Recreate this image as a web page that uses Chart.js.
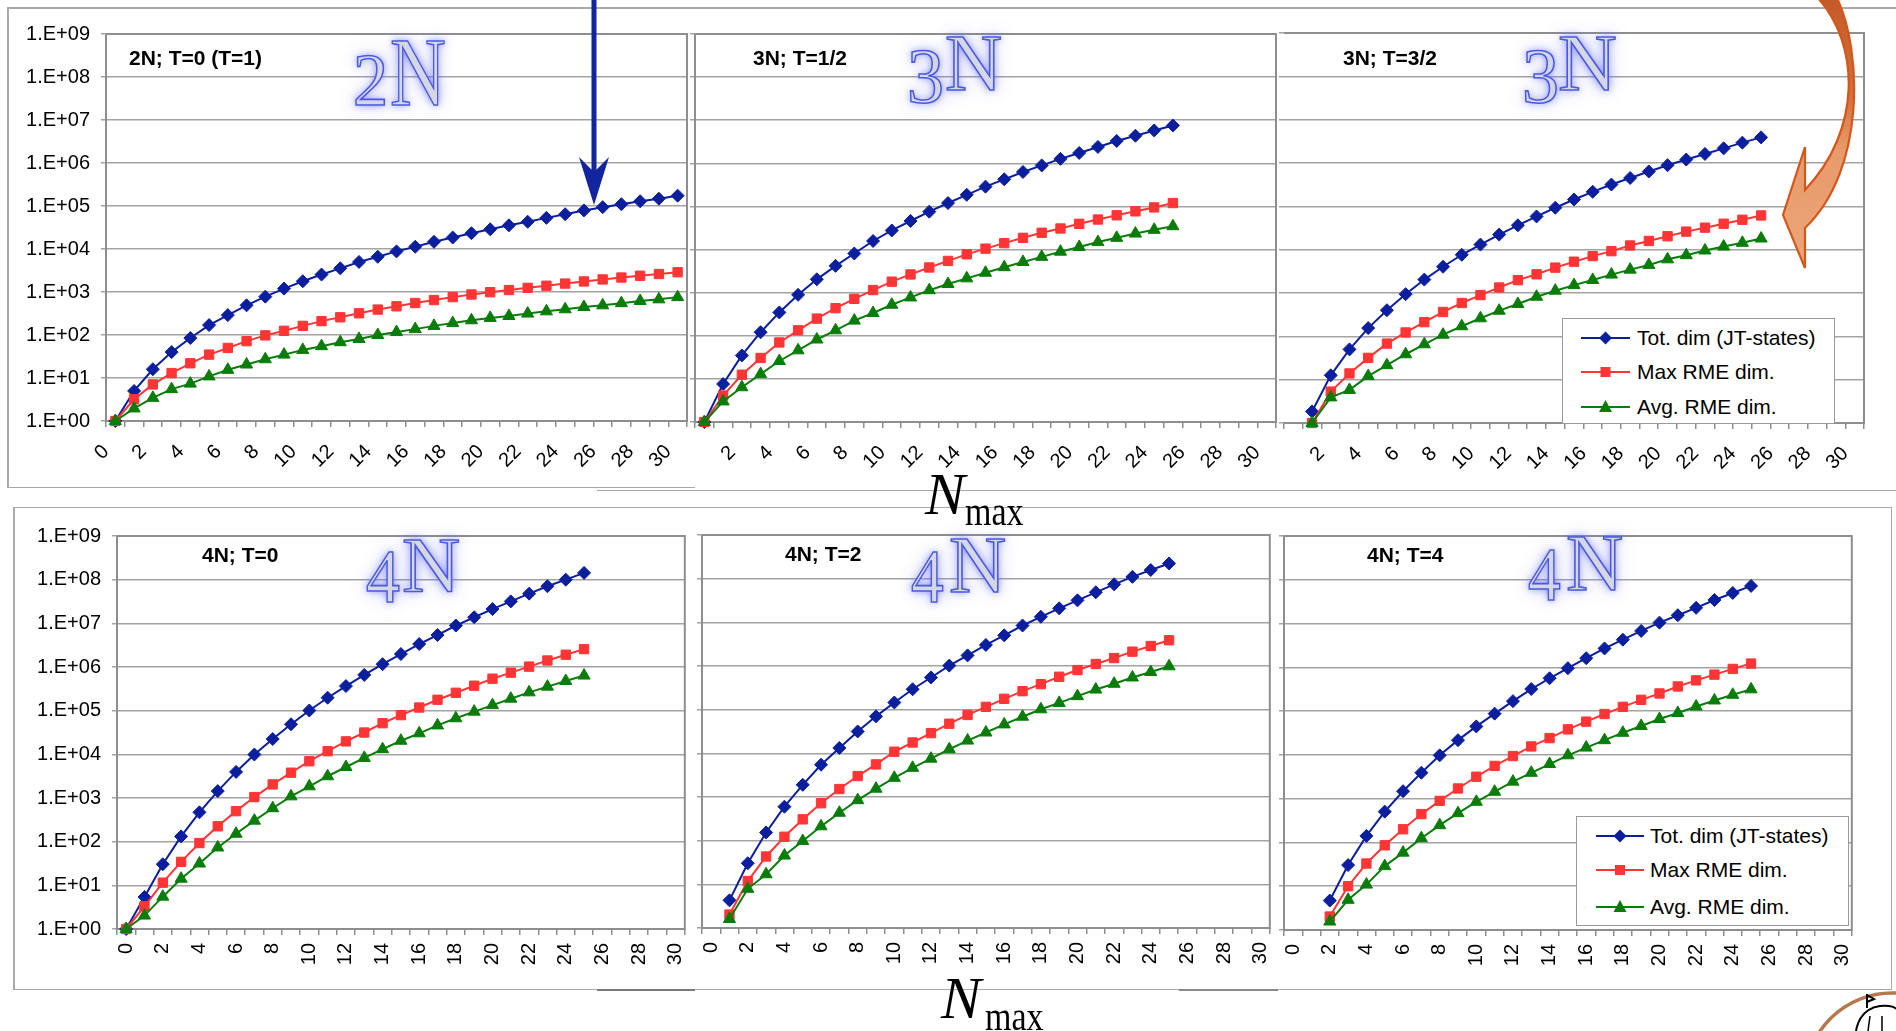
<!DOCTYPE html>
<html>
<head>
<meta charset="utf-8">
<title>JT-state and RME dimensions vs Nmax</title>
<script src="https://cdn.jsdelivr.net/npm/chart.js@4.4.1/dist/chart.umd.min.js"></script>
<style>
  html, body { margin: 0; padding: 0; background: #fff; }
  #page { position: relative; width: 1896px; height: 1031px; overflow: hidden; background: #fff; }
  .rule { position: absolute; background: #a9a9a9; }
  .panel { position: absolute; }
  .panel canvas { display: block; }
  .tag { position: absolute; font: bold 21px "Liberation Sans", Arial, sans-serif; color: #000; white-space: nowrap; line-height: 21px; }
  .deco { position: absolute; font-family: "Liberation Serif", "DejaVu Serif", serif; line-height: 1; color: #d6d7e4;
          -webkit-text-stroke: 1.6px #4b5ae0; text-shadow: 0 0 8px rgba(95,105,255,.8), 0 0 18px rgba(95,105,255,.45);
          transform-origin: 0 0; white-space: nowrap; }
  .nlabel { position: absolute; font-family: "Liberation Serif", "DejaVu Serif", serif; color: #000; line-height: 1; white-space: nowrap; transform-origin: 0 0; }
  .legend { position: absolute; background: #fff; border: 1px solid #9a9a9a; box-sizing: border-box; }
  .legend svg { position: absolute; left: 0; top: 0; }
  .legend span { position: absolute; font: 21px "Liberation Sans", Arial, sans-serif; color: #000; white-space: nowrap; line-height: 24px; }
  svg.overlay { position: absolute; left: 0; top: 0; pointer-events: none; }
</style>
</head>
<body>
<div id="page"></div>
<script>
// ---------- data ----------
const nmaxLabels = ['0','1','2','3','4','5','6','7','8','9','10','11','12','13','14','15',
                    '16','17','18','19','20','21','22','23','24','25','26','27','28','29','30'];
const decadeTicks  = [1, 1e1, 1e2, 1e3, 1e4, 1e5, 1e6, 1e7, 1e8, 1e9];
const decadeLabels = ['1.E+00','1.E+01','1.E+02','1.E+03','1.E+04','1.E+05','1.E+06','1.E+07','1.E+08','1.E+09'];
const seriesNames  = ['Tot. dim (JT-states)', 'Max RME dim.', 'Avg. RME dim.'];

// 2N; T=0 (T=1), Nmax = 0..30
const tot2N_T0 = [1, 5, 16, 40, 85, 170, 290, 490, 780, 1200, 1780, 2550, 3550, 5000, 6600, 8800, 11300, 14700, 18500, 23300,
                  28700, 35500, 43000, 53000, 64500, 79000, 94000, 110000, 129000, 148000, 174000];
const max2N_T0 = [1, 3.2, 7.1, 13, 22, 35, 50, 72, 98, 125, 163, 210, 258, 320, 390, 465, 555, 650, 760, 875,
                  990, 1110, 1250, 1400, 1570, 1760, 1960, 2170, 2390, 2620, 2880];
const avg2N_T0 = [1, 1.96, 3.45, 5.5, 7.4, 10.9, 15.5, 20.6, 27.3, 35, 45, 55, 68, 81, 100, 117, 137, 163, 189, 220,
                  250, 277, 315, 355, 397, 448, 490, 550, 620, 675, 760];

// 3N; T=1/2, from Nmax = 0
const tot3N_T12 = [1, 7.6, 35, 121, 348, 890, 2040, 4190, 8100, 15800, 27700, 46000, 75700, 120000, 186000, 288000, 426000,
                   630000, 895000, 1270000, 1740000, 2400000, 3300000, 4370000, 5800000, 7560000];
const max3N_T12 = [1, 4.1, 12.5, 30.6, 70, 134, 250, 437, 720, 1150, 1800, 2650, 3840, 5450, 7750, 10500, 14100,
                   18700, 24500, 30800, 39500, 49700, 62300, 77000, 95000, 120000];
const avg3N_T12 = [1, 3.0, 6.4, 12.9, 26, 46, 82, 134, 225, 337, 525, 775, 1140, 1590, 2150, 2900, 3900,
                   5150, 6770, 8930, 11500, 14900, 18700, 23500, 28700, 34800];

// 3N; T=3/2, from Nmax = 1
const tot3N_T32 = [1.85, 12.6, 50, 155, 400, 940, 2040, 4040, 7630, 13100, 22300, 36500, 58500, 92800, 144000, 216000,
                   318000, 450000, 637000, 890000, 1200000, 1620000, 2180000, 2950000, 3900000];
const max3N_T32 = [1, 5.3, 13.9, 31.8, 68, 123, 213, 365, 587, 895, 1340, 1980, 2700, 3850, 5280, 7100,
                   9240, 12500, 15900, 20400, 26100, 32200, 39700, 49000, 61600];
const avg3N_T32 = [1, 3.9, 5.8, 12.1, 21.6, 38.6, 65.6, 109, 171, 261, 391, 559, 820, 1130, 1520, 2000,
                   2660, 3460, 4440, 5980, 7460, 9580, 11800, 14400, 18100];

// 4N; T=0, from Nmax = 0
const tot4N_T0 = [1, 5.4, 30.4, 132, 470, 1440, 3960, 9900, 22400, 48700, 101000, 198000, 366000, 660000, 1160000,
                  1980000, 3360000, 5400000, 8900000, 13800000, 21200000, 31800000, 47800000, 70700000, 100000000, 143000000];
const max4N_T0 = [1, 3.3, 11.5, 34.5, 93, 225, 500, 1050, 2050, 3800, 6950, 11800, 19800, 31600, 51600,
                  79000, 118000, 178000, 257000, 373000, 540000, 742000, 1020000, 1410000, 1910000, 2570000];
const avg4N_T0 = [1, 2.03, 5.5, 14.2, 31.6, 73.6, 152, 303, 583, 1090, 1850, 3150, 5130, 8280, 13100,
                  20500, 30300, 46000, 67000, 95000, 134000, 188000, 263000, 355000, 479000, 637000];

// 4N; T=2, from Nmax = 1
const tot4N_T2 = [4.3, 30.4, 154, 600, 1900, 5490, 13300, 31700, 70300, 146000, 293000, 546000, 1020000, 1750000,
                  3030000, 5040000, 8460000, 13400000, 20900000, 31900000, 48700000, 74300000, 110000000, 158000000, 223000000];
const max4N_T2 = [2.03, 11.9, 43.4, 123, 308, 721, 1520, 3020, 5580, 10900, 17700, 29000, 47700, 75700,
                  116000, 177000, 265000, 384000, 567000, 807000, 1110000, 1520000, 2130000, 2870000, 3890000];
const avg4N_T2 = [1.61, 7.9, 17, 45.6, 98, 213, 436, 846, 1550, 2750, 4660, 7550, 12400, 19600,
                  30000, 46000, 69000, 102000, 143000, 204000, 289000, 392000, 546000, 727000, 985000];

// 4N; T=4, from Nmax = 2
const tot4N_T4 = [4.7, 30.4, 141, 505, 1480, 3910, 9760, 21700, 44800, 87600, 169000, 319000, 563000, 955000,
                  1620000, 2700000, 4280000, 6780000, 10500000, 15500000, 22900000, 34500000, 50000000, 72400000];
const max4N_T4 = [2.03, 10, 33, 86, 200, 444, 890, 1710, 3170, 5600, 9400, 15600, 24200, 38300,
                  57500, 85900, 125000, 181000, 253000, 366000, 504000, 681000, 920000, 1220000];
const avg4N_T4 = [1.56, 4.9, 10.9, 28.8, 58.5, 125, 248, 466, 848, 1440, 2450, 3900, 6180, 9790,
                  14700, 21700, 32000, 45800, 66000, 90600, 127000, 175000, 236000, 314000];

const panelData = [
  { title: '2N; T=0 (T=1)', first: 0, tot: tot2N_T0,  max: max2N_T0,  avg: avg2N_T0 },
  { title: '3N; T=1/2',     first: 0, tot: tot3N_T12, max: max3N_T12, avg: avg3N_T12 },
  { title: '3N; T=3/2',     first: 1, tot: tot3N_T32, max: max3N_T32, avg: avg3N_T32 },
  { title: '4N; T=0',       first: 0, tot: tot4N_T0,  max: max4N_T0,  avg: avg4N_T0 },
  { title: '4N; T=2',       first: 1, tot: tot4N_T2,  max: max4N_T2,  avg: avg4N_T2 },
  { title: '4N; T=4',       first: 2, tot: tot4N_T4,  max: max4N_T4,  avg: avg4N_T4 }
];

// ---------- layout & style ----------
const FONT = '"Liberation Sans", Arial, sans-serif';
const seriesStyle = {
  tot: { color: '#0b1f9e', line: '#0b1f9e', point: 'rectRot',  radius: 6.5 },
  max: { color: '#ff3535', line: '#ff3535', point: 'rect',     radius: 6.6 },
  avg: { color: '#0a7c0a', line: '#0a7c0a', point: 'triangle', radius: 7 }
};
const rowTop    = { padT: 20, padR: 22, padB: 62, rot: 45, tickPad: 13, tickFont: 20, shiftLabels: true };
const rowBottom = { padT: 20, padR: 22, padB: 52, rot: 90, tickPad: 8,  tickFont: 20, shiftLabels: false };
const panelLayout = [
  { box: [106, 31, 687, 421],  row: rowTop,    yLabels: true,  labelRoom: 96, hideZero: false, frameLeft: true,
    tagAt: [129, 47],  deco: [['2', 353, 43, 74, 0.95], ['N', 390, 23, 98, 0.79]] },
  { box: [695, 31, 1276, 422], row: rowTop,    yLabels: false, hideZero: true, frameLeft: true,
    tagAt: [753, 47],  deco: [['3', 907, 37, 78, 0.95], ['N', 945, 23, 80, 0.99]] },
  { box: [1284, 30, 1864, 423], row: rowTop,   yLabels: false, hideZero: true, frameLeft: false,
    tagAt: [1343, 47], deco: [['3', 1522, 37, 78, 0.95], ['N', 1558, 23, 80, 1.02]] },
  { box: [117, 533, 686, 929], row: rowBottom, yLabels: true,  labelRoom: 97, hideZero: false, frameLeft: true,
    tagAt: [202, 544], deco: [['4', 366, 538, 77, 0.88], ['N', 402, 525, 79, 1.02]] },
  { box: [702, 532, 1271, 928], row: rowBottom, yLabels: false, hideZero: false, frameLeft: true,
    tagAt: [785, 543], deco: [['4', 911, 538, 77, 0.85], ['N', 949, 525, 80, 0.99]] },
  { box: [1284, 533, 1853, 930], row: rowBottom, yLabels: false, hideZero: false, frameLeft: true,
    tagAt: [1367, 544], deco: [['4', 1528, 536, 77, 0.85], ['N', 1566, 523, 80, 0.99]] }
];

const page = document.getElementById('page');

// slide rules behind the charts
function rule(x, y, w, h, color) {
  const d = document.createElement('div');
  d.className = 'rule';
  Object.assign(d.style, { left: x + 'px', top: y + 'px', width: w + 'px', height: h + 'px' });
  if (color) d.style.background = color;
  page.appendChild(d);
}
rule(7, 7, 1889, 1.5);
rule(7, 7, 1.5, 481);
rule(7, 486.5, 688, 1.5);
rule(597, 489.5, 1299, 1.5);
rule(13, 506.5, 1879, 1.5);
rule(13, 506.5, 1.5, 483);
rule(1890.5, 506.5, 1.5, 483);
rule(13, 988.5, 1879, 1.5);
rule(597, 988.5, 98, 2, '#7a7a7a');
rule(1179, 988.5, 99, 2, '#8a8a8a');

// grey outline of the plot area
const plotFrame = {
  id: 'plotFrame',
  beforeDatasetsDraw(chart, args, opts) {
    const { left, top, right, bottom } = chart.chartArea;
    const c = chart.ctx;
    c.save();
    c.strokeStyle = opts.color || '#8e8e8e';
    c.lineWidth = opts.width || 2;
    c.beginPath();
    c.moveTo(left, top); c.lineTo(right, top); c.lineTo(right, bottom); c.lineTo(left, bottom);
    if (opts.left !== false) c.lineTo(left, top);
    c.stroke();
    c.restore();
  }
};

function padSeries(values, first) {
  return new Array(first).fill(null).concat(values);
}

function dataset(key, values, first) {
  const s = seriesStyle[key];
  return {
    label: seriesNames[{ tot: 0, max: 1, avg: 2 }[key]],
    data: padSeries(values, first),
    borderColor: s.line,
    backgroundColor: s.color,
    pointBackgroundColor: s.color,
    pointBorderColor: s.color,
    pointBorderWidth: 1,
    pointStyle: s.point,
    pointRadius: s.radius,
    borderWidth: 2,
    tension: 0,
    clip: false
  };
}

function makePanel(d, L) {
  const [x0, y0, x1, y1] = L.box;
  const R = L.row;
  const padL = L.yLabels ? L.labelRoom : 14;
  const w = x1 - x0 + padL + R.padR;
  const h = y1 - y0 + R.padT + R.padB;
  const holder = document.createElement('div');
  holder.className = 'panel';
  holder.style.left = (x0 - padL) + 'px';
  holder.style.top = (y0 - R.padT) + 'px';
  const cv = document.createElement('canvas');
  cv.width = w; cv.height = h;
  cv.style.width = w + 'px'; cv.style.height = h + 'px';
  holder.appendChild(cv);
  page.appendChild(holder);

  const catW = (x1 - x0) / nmaxLabels.length;

  new Chart(cv.getContext('2d'), {
    type: 'line',
    data: {
      labels: nmaxLabels,
      // first dataset is drawn last, so the averages sit on top
      datasets: [dataset('avg', d.avg, d.first), dataset('max', d.max, d.first), dataset('tot', d.tot, d.first)]
    },
    options: {
      responsive: false,
      animation: false,
      devicePixelRatio: 1,
      layout: { padding: { left: 0, top: R.padT, right: R.padR, bottom: 0 } },
      plugins: {
        legend: { display: false },
        tooltip: { enabled: false },
        plotFrame: { color: '#8e8e8e', width: 2, left: L.frameLeft }
      },
      scales: {
        x: {
          type: 'category',
          offset: true,
          grid: { offset: true, drawOnChartArea: false, drawTicks: true, tickLength: 6, color: '#8e8e8e', lineWidth: 1.5 },
          border: { display: false },
          ticks: {
            autoSkip: false,
            minRotation: R.rot, maxRotation: R.rot,
            labelOffset: R.shiftLabels ? -catW / 2 : 0,
            padding: R.tickPad,
            color: '#000',
            font: { family: FONT, size: R.tickFont },
            callback: (v, i) => (i % 2 === 0 && !(L.hideZero && i === 0)) ? nmaxLabels[i] : ''
          },
          afterFit: (s) => { s.height = R.padB; }
        },
        y: {
          type: 'logarithmic',
          min: 1, max: 1e9,
          afterBuildTicks: (s) => { s.ticks = decadeTicks.map(v => ({ value: v })); },
          grid: { color: '#a3a3a3', lineWidth: 1.5, drawTicks: true, tickLength: 5 },
          border: { display: false },
          ticks: {
            padding: 11,
            color: '#000',
            font: { family: FONT, size: 20 },
            callback: (v, i) => L.yLabels ? decadeLabels[i] : ''
          },
          afterFit: (s) => { s.width = padL; }
        }
      }
    },
    plugins: [plotFrame]
  });
}

panelData.forEach((d, i) => makePanel(d, panelLayout[i]));

// panel captions and the large nucleon-number marks
panelData.forEach((d, i) => {
  const L = panelLayout[i];
  const t = document.createElement('div');
  t.className = 'tag';
  t.textContent = d.title;
  t.style.left = L.tagAt[0] + 'px';
  t.style.top = L.tagAt[1] + 'px';
  page.appendChild(t);
  L.deco.forEach(([ch, x, y, size, sx]) => {
    const g = document.createElement('div');
    g.className = 'deco';
    g.textContent = ch;
    Object.assign(g.style, { left: x + 'px', top: y + 'px', fontSize: size + 'px', transform: 'scaleX(' + sx + ')' });
    page.appendChild(g);
  });
});

// legends
function legend(x, y, w, h, rowsY, lineX0, lineX1, textX) {
  const box = document.createElement('div');
  box.className = 'legend';
  Object.assign(box.style, { left: x + 'px', top: y + 'px', width: w + 'px', height: h + 'px' });
  const ns = 'http://www.w3.org/2000/svg';
  const svg = document.createElementNS(ns, 'svg');
  svg.setAttribute('width', w); svg.setAttribute('height', h);
  const keys = ['tot', 'max', 'avg'];
  keys.forEach((k, i) => {
    const s = seriesStyle[k];
    const cy = rowsY[i];
    const cx = (lineX0 + lineX1) / 2;
    const ln = document.createElementNS(ns, 'line');
    ln.setAttribute('x1', lineX0); ln.setAttribute('x2', lineX1);
    ln.setAttribute('y1', cy); ln.setAttribute('y2', cy);
    ln.setAttribute('stroke', s.line); ln.setAttribute('stroke-width', 2);
    svg.appendChild(ln);
    const m = document.createElementNS(ns, 'polygon');
    let pts;
    if (s.point === 'rectRot') pts = [[cx, cy - 6.5], [cx + 6.5, cy], [cx, cy + 6.5], [cx - 6.5, cy]];
    else if (s.point === 'rect') pts = [[cx - 5, cy - 5], [cx + 5, cy - 5], [cx + 5, cy + 5], [cx - 5, cy + 5]];
    else pts = [[cx, cy - 7], [cx + 6.5, cy + 5], [cx - 6.5, cy + 5]];
    m.setAttribute('points', pts.map(p => p.join(',')).join(' '));
    m.setAttribute('fill', s.color);
    svg.appendChild(m);
    const sp = document.createElement('span');
    sp.textContent = seriesNames[i];
    sp.style.left = textX + 'px';
    sp.style.top = (cy - 12) + 'px';
    box.appendChild(sp);
  });
  box.insertBefore(svg, box.firstChild);
  page.appendChild(box);
}
legend(1562, 318, 273, 106, [19, 53, 88], 18, 67, 74);
legend(1576, 816, 273, 110, [19, 53, 90], 19, 67, 73);

// axis titles
function nText(txt, x, y, size, italic, sx) {
  const e = document.createElement('div');
  e.className = 'nlabel';
  e.textContent = txt;
  Object.assign(e.style, { left: x + 'px', top: y + 'px', fontSize: size + 'px', fontStyle: italic ? 'italic' : 'normal',
                           transform: 'scaleX(' + sx + ')' });
  page.appendChild(e);
}
nText('N', 925, 464, 60, true, 1);
nText('max', 965, 492, 40, false, 0.85);
nText('N', 941, 968, 60, true, 1);
nText('max', 985, 997, 40, false, 0.85);

// pointer arrows and corner emblem
page.insertAdjacentHTML('beforeend', `
<svg class="overlay" width="1896" height="1031" viewBox="0 0 1896 1031">
  <defs>
    <linearGradient id="ribbon" gradientUnits="userSpaceOnUse" x1="0" y1="0" x2="0" y2="270">
      <stop offset="0" stop-color="#c45a28"/>
      <stop offset="0.35" stop-color="#d4703c"/>
      <stop offset="0.55" stop-color="#e89a6a"/>
      <stop offset="1" stop-color="#eca67a"/>
    </linearGradient>
  </defs>
  <path d="M1818,-2 C1860,45 1862,130 1805,190 L1805,147 L1783,215 L1805,268 L1805,228 C1866,170 1862,50 1837,-2 Z"
        fill="url(#ribbon)" stroke="#d4561a" stroke-width="2.2" stroke-linejoin="miter"/>
  <rect x="591.5" y="-2" width="5" height="174" fill="#12259e"/>
  <path d="M594,205 L579,157 L594,172 L609,157 Z" fill="#12259e"/>
  <circle cx="1892" cy="1080" r="87" fill="none" stroke="#b5784f" stroke-width="3.5"/>
  <path d="M1856,1031 Q1860,1009 1880,1006 Q1893,1005 1896,1009" fill="none" stroke="#000" stroke-width="2"/>
  <path d="M1867,994 L1867,1008 M1867,995 L1874,999 L1867,1002" fill="none" stroke="#000" stroke-width="2"/>
  <path d="M1868,1031 L1870,1016 M1882,1031 L1882,1016" fill="none" stroke="#000" stroke-width="1.5"/>
</svg>`);
</script>
</body>
</html>
